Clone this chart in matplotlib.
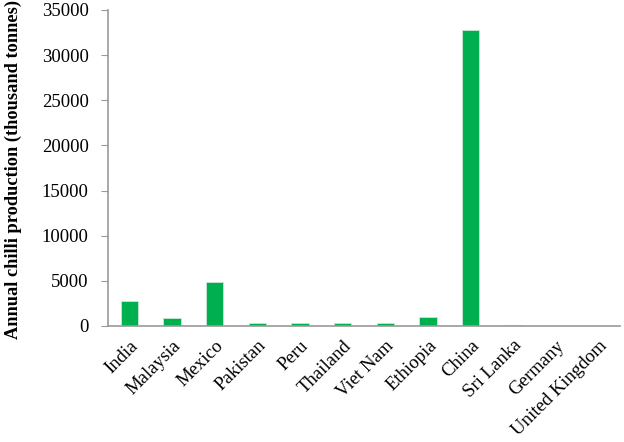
import matplotlib
matplotlib.use("Agg")
import matplotlib.pyplot as plt

countries = ["India", "Malaysia", "Mexico", "Pakistan", "Peru", "Thailand",
             "Viet Nam", "Ethiopia", "China", "Sri Lanka", "Germany", "United Kingdom"]
production = [2770, 850, 4840, 300, 370, 300, 300, 1000, 32800, 100, 0, 0]
yticks = [0, 5000, 10000, 15000, 20000, 25000, 30000, 35000]

plt.rcParams['font.family'] = ['Liberation Serif', 'DejaVu Serif']

fig = plt.figure(figsize=(6.24, 4.42), dpi=100)
ax = fig.add_axes([108/624, 1 - 326/442, 512/624, 316/442])

x = range(len(countries))
ax.bar(x, production, width=0.4, color="#00b050", edgecolor="#c8e8d0", linewidth=0.6)
ax.set_xlim(-0.5, len(countries) - 0.5)
ax.set_ylim(0, 35000)
ax.set_yticks(yticks)
ax.set_yticklabels([str(t) for t in yticks], fontsize=13.5)
ax.set_xticks(list(x))
ax.set_xticklabels(countries, rotation=45, ha="right", rotation_mode="anchor", fontsize=13.5)
ax.tick_params(axis="x", length=0, pad=8)
ax.tick_params(axis="y", length=5, color="#999999", direction="out", pad=9)
for s in ["top", "right"]:
    ax.spines[s].set_visible(False)
for s in ["left", "bottom"]:
    ax.spines[s].set_color("#999999")
    ax.spines[s].set_linewidth(1.2)
ax.set_ylabel("Annual chilli production (thousand tonnes)", fontsize=13.2, fontweight="bold")
ax.yaxis.set_label_coords(-86/512, 0.495)

fig.savefig("out.png", dpi=100)
